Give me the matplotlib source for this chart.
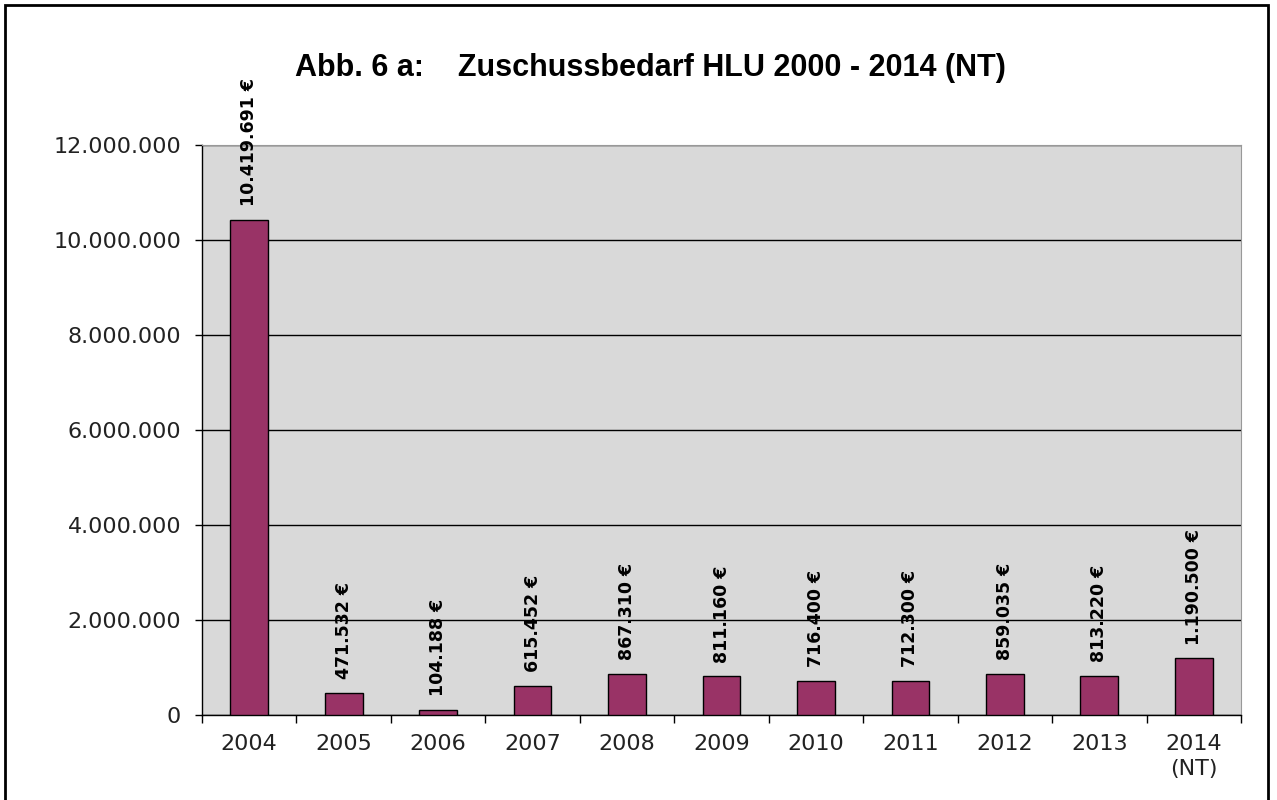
import matplotlib
matplotlib.use('Agg')
import matplotlib.pyplot as plt
from matplotlib.patches import Rectangle

# daten
jahre = ['2004', '2005', '2006', '2007', '2008', '2009', '2010', '2011', '2012', '2013', '2014\n(NT)']
werte = [10419691, 471532, 104188, 615452, 867310, 811160, 716400, 712300, 859035, 813220, 1190500]
y_ticks = [0, 2000000, 4000000, 6000000, 8000000, 10000000, 12000000]

def fmt(v):
    return f"{v:,}".replace(',', '.')

plt.rcParams['font.family'] = ['DejaVu Sans']

fig = plt.figure(figsize=(12.77, 8), dpi=100)
ax = fig.add_axes([0.1582, 0.10625, 0.8136, 0.7125])
ax.set_facecolor('#d9d9d9')

x = list(range(len(jahre)))
ax.bar(x, werte, width=0.4, color='#993366', edgecolor='black', linewidth=1, zorder=3)

# label di atas bar
for xi, v in zip(x, werte):
    ax.annotate(f"{fmt(v)} €", (xi, v), xytext=(0, 10), textcoords='offset points',
                rotation=90, ha='center', va='bottom', fontsize=12.5, fontweight='bold',
                color='black', zorder=4, annotation_clip=False)

ax.set_xlim(-0.5, len(jahre) - 0.5)
ax.set_ylim(0, 12000000)
ax.set_yticks(y_ticks)
ax.set_yticklabels([fmt(t) for t in y_ticks], fontsize=16, color='#222222')
ax.yaxis.grid(True, color='black', linewidth=1, zorder=1)
ax.set_axisbelow(True)

ax.set_xticks(x)
ax.set_xticklabels(jahre, fontsize=16, color='#222222', linespacing=1.3)
ax.tick_params(axis='x', length=0, pad=14)
ax.set_xticks([i - 0.5 for i in range(len(jahre) + 1)], minor=True)
ax.tick_params(axis='x', which='minor', length=6, width=1, direction='out')
ax.tick_params(axis='y', length=5, width=1, direction='out', pad=10)

for s in ['left', 'bottom']:
    ax.spines[s].set_color('black')
    ax.spines[s].set_linewidth(1)
ax.spines['top'].set_color('#999999')
ax.spines['right'].set_color('#999999')

fig.text(0.509, 0.915, "Abb. 6 a:    Zuschussbedarf HLU 2000 - 2014 (NT)",
         ha='center', va='center', fontsize=22, fontweight='bold',
         family=['Liberation Sans'])

# rahmen
fig.patches.append(Rectangle((5 / 1277, -0.05), 1263 / 1277, 1.05 - 5 / 800,
                             transform=fig.transFigure, fill=False,
                             edgecolor='black', linewidth=2))

fig.savefig('out.png', dpi=100)
